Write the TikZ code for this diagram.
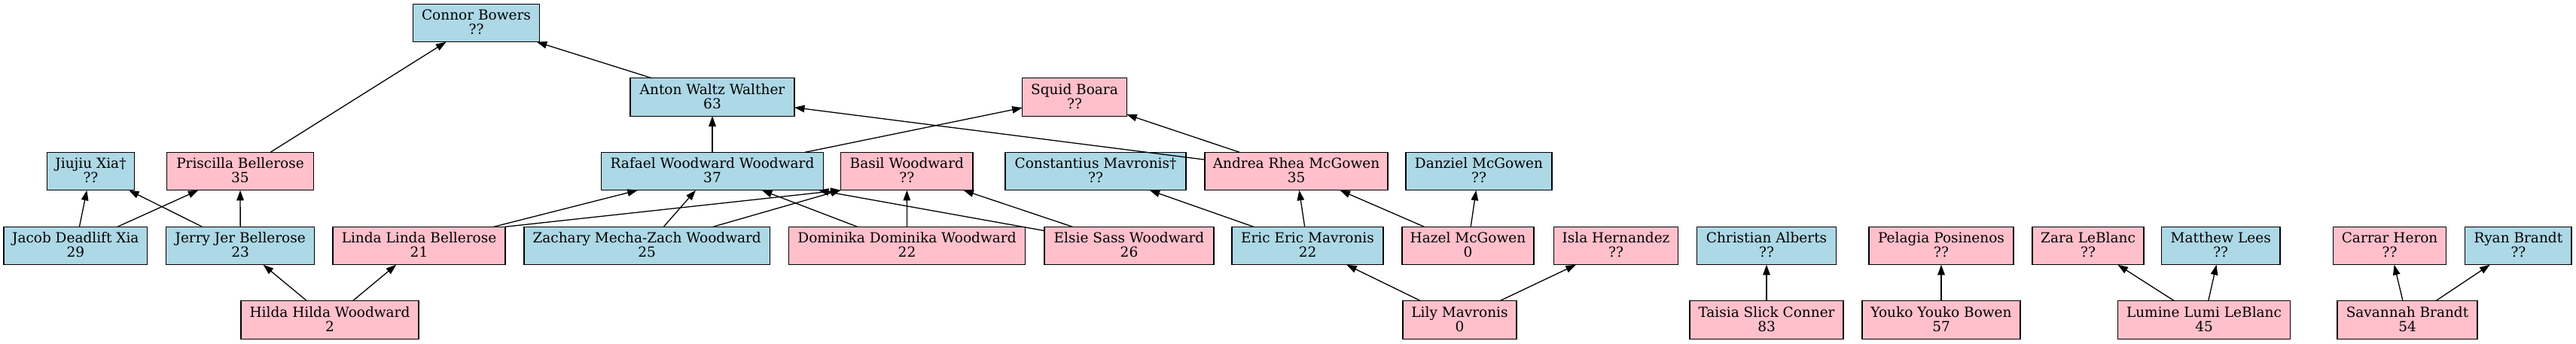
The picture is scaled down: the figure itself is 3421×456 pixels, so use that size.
\documentclass[tikz,border=0pt]{standalone}
\usepackage{fontspec}
\setmainfont{DejaVu Serif}
\usetikzlibrary{arrows.meta}
\definecolor{mblue}{HTML}{ADD8E6}
\definecolor{fpink}{HTML}{FFC0CB}
\begin{document}
\begin{tikzpicture}[x=1pt,y=-1pt,
 person/.style={draw=black, line width=1.3pt, rectangle, minimum height=50.5pt, inner sep=0pt, outer sep=0pt, align=center, font=\fontsize{18.5}{19}\selectfont, text height=31pt, text depth=0.5pt},
 male/.style={person, fill=mblue},
 female/.style={person, fill=fpink},
 rel/.style={line width=1.3pt, -{Triangle[length=13.5pt,width=9.5pt]}}]
\useasboundingbox (0,0) rectangle (3421,456);
% row 0
\node[male, minimum width=167.5pt] (connor) at (632.5,30.5) {Connor Bowers\\??};
% row 1
\node[male, minimum width=218pt] (anton) at (946,129) {Anton Waltz Walther\\63};
\node[female, minimum width=138.5pt] (squid) at (1427,129) {Squid Boara\\??};
% row 2
\node[male, minimum width=115.7pt] (jiujiu) at (120.5,227.5) {Jiujiu Xia†\\??};
\node[female, minimum width=195pt] (priscilla) at (319,227.5) {Priscilla Bellerose\\35};
\node[male, minimum width=295pt] (rafael) at (946,227.5) {Rafael Woodward Woodward\\37};
\node[female, minimum width=175.3pt] (basil) at (1204.3,227.5) {Basil Woodward\\??};
\node[male, minimum width=240pt] (constantius) at (1455,227.5) {Constantius Mavronis†\\??};
\node[female, minimum width=243pt] (andrea) at (1721.5,227.5) {Andrea Rhea McGowen\\35};
\node[male, minimum width=194pt] (danziel) at (1964,227.5) {Danziel McGowen\\??};
% row 3
\node[male, minimum width=190.7pt] (jacob) at (100.3,326.5) {Jacob Deadlift Xia\\29};
\node[male, minimum width=197pt] (jerry) at (319.2,326.5) {Jerry Jer Bellerose\\23};
\node[female, minimum width=229pt] (linda) at (556.5,326.5) {Linda Linda Bellerose\\21};
\node[male, minimum width=326.4pt] (zachary) at (859.2,326.5) {Zachary Mecha-Zach Woodward\\25};
\node[female, minimum width=314.4pt] (dominika) at (1204.5,326.5) {Dominika Dominika Woodward\\22};
\node[female, minimum width=225pt] (elsie) at (1499.5,326.5) {Elsie Sass Woodward\\26};
\node[male, minimum width=201pt] (eric) at (1736.5,326.5) {Eric Eric Mavronis\\22};
\node[female, minimum width=175pt] (hazel) at (1949.5,326.5) {Hazel McGowen\\0};
\node[female, minimum width=165.5pt] (isla) at (2146,326.5) {Isla Hernandez\\??};
\node[male, minimum width=184.4pt] (christian) at (2346,326.5) {Christian Alberts\\??};
\node[female, minimum width=192pt] (pelagia) at (2578,326.5) {Pelagia Posinenos\\??};
\node[female, minimum width=148pt] (zara) at (2773,326.5) {Zara LeBlanc\\??};
\node[male, minimum width=157.5pt] (matthew) at (2949.2,326.5) {Matthew Lees\\??};
\node[female, minimum width=150pt] (carrar) at (3173.6,326.5) {Carrar Heron\\??};
\node[male, minimum width=141.3pt] (ryan) at (3344.4,326.5) {Ryan Brandt\\??};
% row 4
\node[female, minimum width=236pt] (hilda) at (438,425) {Hilda Hilda Woodward\\2};
\node[female, minimum width=151pt] (lily) at (1938.5,425) {Lily Mavronis\\0};
\node[female, minimum width=204pt] (taisia) at (2346,425) {Taisia Slick Conner\\83};
\node[female, minimum width=210pt] (youko) at (2578,425) {Youko Youko Bowen\\57};
\node[female, minimum width=228.4pt] (lumine) at (2927,425) {Lumine Lumi LeBlanc\\45};
\node[female, minimum width=186pt] (savannah) at (3197,425) {Savannah Brandt\\54};
% edges (child -> parent)
\draw[rel] (priscilla) -- (connor);
\draw[rel] (anton) -- (connor);
\draw[rel] (rafael) -- (anton);
\draw[rel] (andrea) -- (anton);
\draw[rel] (rafael) -- (squid);
\draw[rel] (andrea) -- (squid);
\draw[rel] (jacob) -- (jiujiu);
\draw[rel] (jacob) -- (priscilla);
\draw[rel] (jerry) -- (jiujiu);
\draw[rel] (jerry) -- (priscilla);
\draw[rel] (hilda) -- (jerry);
\draw[rel] (hilda) -- (linda);
\draw[rel] (linda) -- (rafael);
\draw[rel] (linda.north east) -- (basil.south west);
\draw[rel] (zachary) -- (rafael);
\draw[rel] (zachary) -- (basil);
\draw[rel] (dominika) -- (rafael);
\draw[rel] (dominika) -- (basil);
\draw[rel] (elsie) -- (rafael);
\draw[rel] (elsie) -- (basil);
\draw[rel] (eric) -- (constantius);
\draw[rel] (eric) -- (andrea);
\draw[rel] (hazel) -- (andrea);
\draw[rel] (hazel) -- (danziel);
\draw[rel] (lily) -- (eric);
\draw[rel] (lily) -- (isla);
\draw[rel] (taisia) -- (christian);
\draw[rel] (youko) -- (pelagia);
\draw[rel] (lumine) -- (zara);
\draw[rel] (lumine) -- (matthew);
\draw[rel] (savannah) -- (carrar);
\draw[rel] (savannah) -- (ryan);
\end{tikzpicture}
\end{document}
